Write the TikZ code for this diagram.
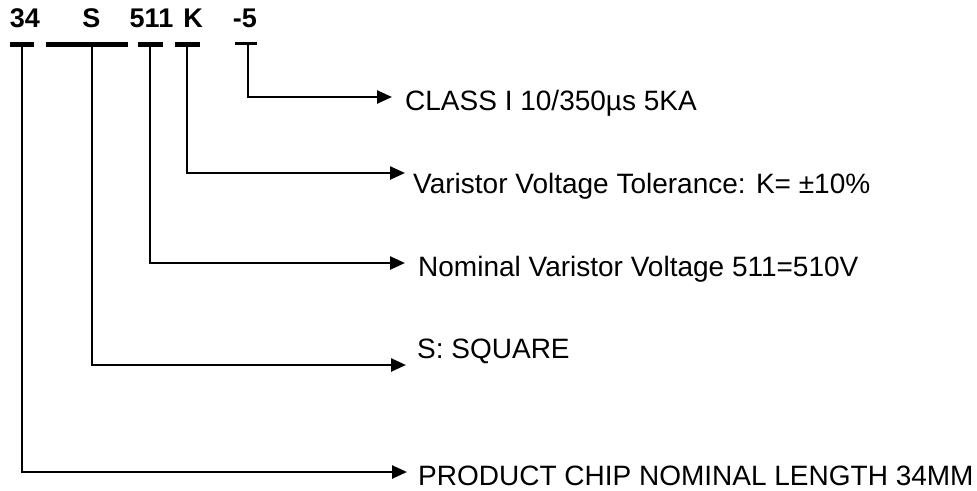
\documentclass[tikz,border=0pt]{standalone}
\usepackage{fontspec}
\setmainfont{Liberation Sans}
\usetikzlibrary{arrows.meta}

\tikzset{
  code/.style={font=\fontsize{27}{30}\selectfont\bfseries, anchor=base, inner sep=0pt},
  desc/.style={font=\fontsize{28}{31}\selectfont, anchor=base west, inner sep=0pt},
  bar/.style={line width=5pt},
  lead/.style={line width=2.5pt, -{Triangle[length=15pt,width=13pt]}},
}

\begin{document}
\begin{tikzpicture}[x=1pt,y=-1pt]
\useasboundingbox (0,0) rectangle (977,490);
% part number
\node[code] (n34) at (25,27) {34};
\node[code] (nS) at (91.5,27) {S};
\node[code] (n511) at (151.5,27) {511};
\node[code] (nK) at (193,27) {K};
\node[code] (n5) at (245,27) {-5};
% bars under the fields
\draw[bar] (10,44.5) -- (34,44.5);
\draw[bar] (46,44.5) -- (128,44.5);
\draw[bar] (138,44.5) -- (163,44.5);
\draw[bar] (175,44.5) -- (200,44.5);
\draw[line width=3pt] (235,43) -- (257,43);
\coordinate (b34) at (22,44);
\coordinate (bS) at (92,44);
\coordinate (b511) at (150,44);
\coordinate (bK) at (187,44);
\coordinate (b5) at (248,43);
% arrow ends
\coordinate (t34) at (407,472);
\coordinate (tS) at (406,365);
\coordinate (t511) at (405,263);
\coordinate (tK) at (405,173);
\coordinate (t5) at (392,97);
% meanings
\node[desc] (d5) at (405,110) {CLASS I 10/350µs 5KA};
\node[desc] (dK) at (413,193) {Varistor Voltage Tolerance: K= ±10\%};
\node[desc] (d511) at (418,276) {Nominal Varistor Voltage 511=510V};
\node[desc] (dS) at (417,358) {S: SQUARE};
\node[desc] (d34) at (418,485) {PRODUCT CHIP NOMINAL LENGTH 34MM};
% leaders
\draw[lead] (b5) |- (t5);
\draw[lead] (bK) |- (tK);
\draw[lead] (b511) |- (t511);
\draw[lead] (bS) |- (tS);
\draw[lead] (b34) |- (t34);
\end{tikzpicture}
\end{document}
